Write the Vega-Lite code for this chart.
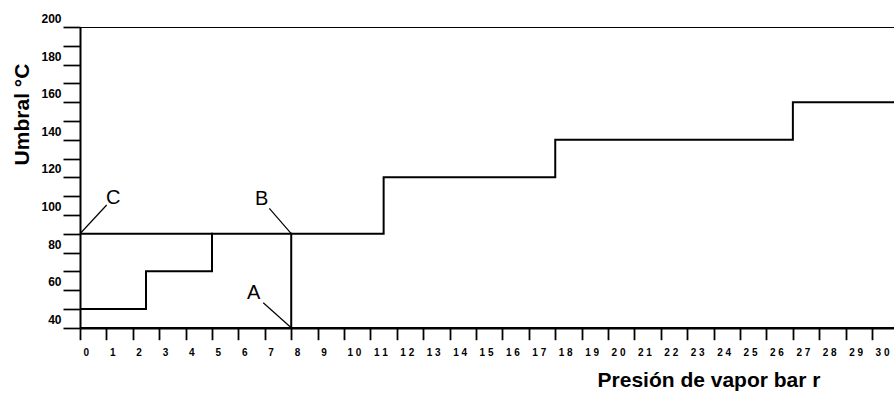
{
  "$schema": "https://vega.github.io/schema/vega-lite/v6.json",
  "width": 814,
  "height": 300.7,
  "autosize": {"type": "none"},
  "padding": {"left": 80, "top": 27, "right": 0, "bottom": 67.3},
  "background": "white",
  "config": {
    "view": {"stroke": null},
    "font": "Liberation Sans",
    "axis": {
      "grid": false,
      "domainColor": "black", "tickColor": "black", "labelColor": "black", "titleColor": "black",
      "labelFont": "Liberation Sans", "labelFontWeight": "bold", "labelOverlap": false, "labelFlush": false, "labelBound": false,
      "titleFont": "Liberation Sans", "titleFontWeight": "bold"
    },
    "axisX": {
      "domainWidth": 2.5, "tickWidth": 1.8, "tickSize": 12,
      "labelFontSize": 10, "labelAlign": "left", "labelOffset": 3, "labelPadding": 8,
      "titleFontSize": 21, "titleAlign": "center", "titleBaseline": "alphabetic",
      "titleX": 628.5, "titleY": 59
    },
    "axisY": {
      "domainWidth": 2, "tickWidth": 1.7, "tickSize": 17,
      "labelFontSize": 12, "labelBaseline": "middle", "labelOffset": -8.5, "labelPadding": 2,
      "titleFontSize": 21, "titleAngle": -90, "titleAlign": "center", "titleBaseline": "alphabetic",
      "titleX": -51.7, "titleY": 87
    }
  },
  "datasets": {
    "lines": [
      {"series": "top", "i": 0, "x": 0, "y": 200},
      {"series": "top", "i": 1, "x": 31, "y": 200},
      {"series": "upper", "i": 0, "x": 0, "y": 90},
      {"series": "upper", "i": 1, "x": 11.5, "y": 90},
      {"series": "upper", "i": 2, "x": 11.5, "y": 120},
      {"series": "upper", "i": 3, "x": 18, "y": 120},
      {"series": "upper", "i": 4, "x": 18, "y": 140},
      {"series": "upper", "i": 5, "x": 27, "y": 140},
      {"series": "upper", "i": 6, "x": 27, "y": 160},
      {"series": "upper", "i": 7, "x": 31, "y": 160},
      {"series": "lower", "i": 0, "x": 0, "y": 50},
      {"series": "lower", "i": 1, "x": 2.5, "y": 50},
      {"series": "lower", "i": 2, "x": 2.5, "y": 70},
      {"series": "lower", "i": 3, "x": 5, "y": 70},
      {"series": "lower", "i": 4, "x": 5, "y": 90},
      {"series": "vertical", "i": 0, "x": 8, "y": 40},
      {"series": "vertical", "i": 1, "x": 8, "y": 90}
    ],
    "leaders": [
      {"point": "C", "x": 0, "y": 90, "x2": 1.01, "y2": 105.3},
      {"point": "B", "x": 7.17, "y": 103.5, "x2": 8, "y2": 90},
      {"point": "A", "x": 6.94, "y": 53.3, "x2": 8, "y2": 40}
    ],
    "labels": [
      {"point": "C", "x": 1.26, "y": 109.0},
      {"point": "B", "x": 6.88, "y": 108.6},
      {"point": "A", "x": 6.58, "y": 58.3}
    ]
  },
  "encoding": {
    "x": {
      "field": "x", "type": "quantitative",
      "scale": {"domain": [0, 30.83], "nice": false, "zero": false},
      "axis": {
        "values": [0,1,2,3,4,5,6,7,8,9,10,11,12,13,14,15,16,17,18,19,20,21,22,23,24,25,26,27,28,29,30],
        "labelExpr": "length(datum.label) > 1 ? slice(datum.label, 0, 1) + ' ' + slice(datum.label, 1) : datum.label",
        "labelOverlap": false,
        "labelFontSize": 10,
        "title": "Presión de vapor bar r"
      }
    },
    "y": {
      "field": "y", "type": "quantitative",
      "scale": {"domain": [40, 200], "nice": false, "zero": false},
      "axis": {
        "values": [40,50,60,70,80,90,100,110,120,130,140,150,160,170,180,190,200],
        "labelExpr": "datum.value % 20 == 0 ? datum.label : ''",
        "labelOverlap": false,
        "labelFontSize": 12,
        "title": "Umbral °C"
      }
    }
  },
  "layer": [
    {
      "data": {"name": "lines"},
      "mark": {"type": "line", "color": "black", "strokeWidth": 2, "clip": true, "strokeCap": "square"},
      "encoding": {
        "detail": {"field": "series", "type": "nominal"},
        "order": {"field": "i", "type": "quantitative"}
      }
    },
    {
      "data": {"name": "leaders"},
      "mark": {"type": "rule", "color": "black", "strokeWidth": 1.2},
      "encoding": {
        "x2": {"field": "x2"},
        "y2": {"field": "y2"}
      }
    },
    {
      "data": {"name": "labels"},
      "mark": {"type": "text", "color": "black", "font": "Liberation Sans", "fontSize": 20, "align": "center", "baseline": "middle"},
      "encoding": {
        "text": {"field": "point", "type": "nominal"}
      }
    }
  ]
}
